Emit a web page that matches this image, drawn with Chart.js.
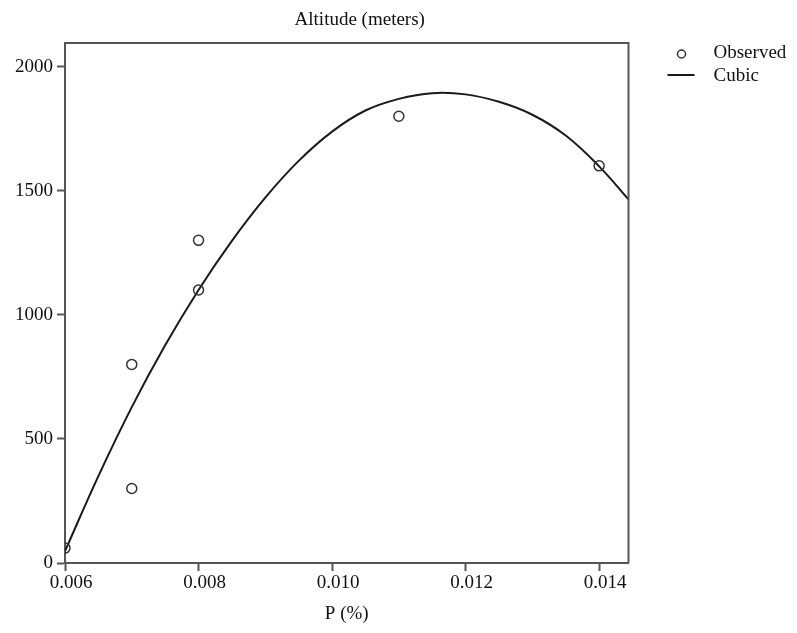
<!DOCTYPE html>
<html>
<head>
<meta charset="utf-8">
<script src="https://cdn.jsdelivr.net/npm/chart.js@4/dist/chart.umd.min.js"></script>
<style>
html,body{margin:0;padding:0;background:#fff;}
#wrap{width:797px;height:633px;position:relative;}
</style>
</head>
<body>
<div id="wrap"><canvas id="c" width="797" height="633"></canvas></div>
<script>
// ---- data ----
const obsX = [0.006, 0.007, 0.007, 0.008, 0.008, 0.011, 0.014];
const obsY = [60, 800, 300, 1300, 1100, 1800, 1600];

const cubicX = [0.006, 0.0065, 0.007, 0.0075, 0.008, 0.0085, 0.009, 0.0095, 0.010, 0.0105, 0.011, 0.0115, 0.012, 0.0125, 0.013, 0.0135, 0.014, 0.01444];
const cubicY = [48, 350, 628, 877, 1100, 1298, 1472, 1620, 1738, 1823, 1870, 1893, 1888, 1858, 1806, 1722, 1598, 1465];

const xTicks = [0.006, 0.008, 0.010, 0.012, 0.014];
const yTicks = [0, 500, 1000, 1500, 2000];

const chartTitle = 'Altitude (meters)';
const xTitle = 'P (%)';
const legendLabels = ['Observed', 'Cubic'];

// ---- styling ----
const FONT = '"Liberation Serif", "Times New Roman", serif';
const FSIZE = 19;
const AXIS = '#555555';
const TEXT = '#111111';

const decor = {
  id: 'decor',
  afterDraw(chart) {
    const ctx = chart.ctx, a = chart.chartArea;
    ctx.save();
    // frame top & right
    ctx.strokeStyle = AXIS; ctx.lineWidth = 2;
    ctx.beginPath();
    ctx.moveTo(a.left, a.top); ctx.lineTo(a.right, a.top); ctx.lineTo(a.right, a.bottom);
    ctx.stroke();
    ctx.fillStyle = TEXT;
    ctx.font = FSIZE + 'px ' + FONT;
    ctx.textAlign = 'center'; ctx.textBaseline = 'middle';
    ctx.fillText(chartTitle, (a.left + a.right) / 2 + 13, 20);
    ctx.fillText(xTitle, (a.left + a.right) / 2, 614);
    // legend
    const lx = a.right + 53, ly1 = 53, ly2 = 76;
    ctx.textAlign = 'left';
    ctx.fillText(legendLabels[0], a.right + 85, ly1);
    ctx.fillText(legendLabels[1], a.right + 85, ly2);
    ctx.strokeStyle = '#333'; ctx.lineWidth = 1.5;
    ctx.beginPath(); ctx.arc(lx, ly1 + 1, 4, 0, Math.PI * 2); ctx.stroke();
    ctx.strokeStyle = '#1a1a1a'; ctx.lineWidth = 2;
    ctx.beginPath(); ctx.moveTo(a.right + 39, ly2 - 1); ctx.lineTo(a.right + 66, ly2 - 1); ctx.stroke();
    ctx.restore();
  }
};

new Chart(document.getElementById('c'), {
  type: 'scatter',
  data: {
    datasets: [
      {
        label: legendLabels[1],
        data: cubicX.map((x, i) => ({x: x, y: cubicY[i]})),
        showLine: true,
        borderColor: '#1a1a1a',
        borderWidth: 2,
        pointRadius: 0,
        tension: 0.4,
        fill: false,
        order: 2
      },
      {
        label: legendLabels[0],
        data: obsX.map((x, i) => ({x: x, y: obsY[i]})),
        showLine: false,
        pointRadius: 5,
        pointBorderWidth: 1.5,
        pointBorderColor: '#333333',
        pointBackgroundColor: 'rgba(255,255,255,0)',
        order: 1
      }
    ]
  },
  options: {
    responsive: false,
    animation: false,
    layout: {padding: {left: 0, top: 43, right: 168.5, bottom: 0}},
    plugins: {legend: {display: false}, title: {display: false}, tooltip: {enabled: false}},
    scales: {
      x: {
        type: 'linear',
        min: 0.006, max: 0.01444,
        afterBuildTicks: s => { s.ticks = xTicks.map(v => ({value: v})); },
        afterFit: s => { s.height = 70; },
        border: {display: true, color: AXIS, width: 2},
        grid: {display: true, drawOnChartArea: false, drawTicks: true, tickLength: 8, tickWidth: 2, tickColor: AXIS},
        ticks: {
          color: TEXT, font: {family: FONT, size: FSIZE}, padding: 1, labelOffset: 6,
          maxRotation: 0, autoSkip: false,
          callback: v => v.toFixed(3)
        }
      },
      y: {
        type: 'linear',
        min: 0, max: 2095,
        afterBuildTicks: s => { s.ticks = yTicks.map(v => ({value: v})); },
        afterFit: s => { s.width = 65; },
        border: {display: true, color: AXIS, width: 2},
        grid: {display: true, drawOnChartArea: false, drawTicks: true, tickLength: 8, tickWidth: 2, tickColor: AXIS},
        ticks: {
          color: TEXT, font: {family: FONT, size: FSIZE}, padding: 4, autoSkip: false,
          callback: v => String(v)
        }
      }
    }
  },
  plugins: [decor]
});
</script>
</body>
</html>
